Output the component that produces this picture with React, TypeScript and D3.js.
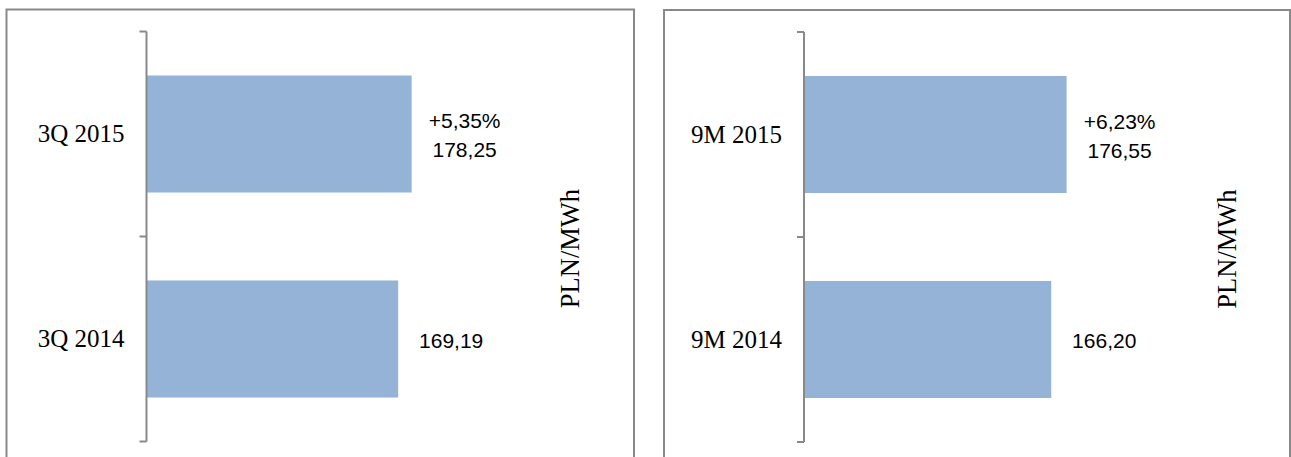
import * as d3 from 'd3';

// left panel: quarter
const qCategories = ['3Q 2015', '3Q 2014'];
const qValues = [178.25, 169.19];
const qLabels = [['+5,35%', '178,25'], ['169,19']];

// right panel: nine months
const mCategories = ['9M 2015', '9M 2014'];
const mValues = [176.55, 166.2];
const mLabels = [['+6,23%', '176,55'], ['166,20']];

const unit = 'PLN/MWh';

const W = 1291;
const H = 457;
const barColor = '#95B3D7';
const lineColor = '#898989';
const serif = '"Liberation Serif", "Times New Roman", serif';
const sans = '"Liberation Sans", Arial, sans-serif';

type PanelProps = {
  left: number;
  right: number;
  top: number;
  categories: string[];
  values: number[];
  labels: string[][];
};

const Panel = ({ left, right, top, categories, values, labels }: PanelProps) => {
  const axisX = left + 140;
  const yScale = d3
    .scaleBand<string>()
    .domain(categories)
    .range([top + 22, top + 432]);
  const xScale = d3
    .scaleLinear()
    .domain([0, 200])
    .range([axisX, axisX + 297.5]);

  const barH = yScale.bandwidth() * 0.571;
  const ticks = [...categories.map((c) => yScale(c) as number), yScale.range()[1]];

  return (
    <g>
      {/* panel frame, bottom runs off the picture */}
      <path
        d={`M${left},${H + 5} V${top} H${right} V${H + 5}`}
        fill='none'
        stroke={lineColor}
        strokeWidth={2}
      />
      {categories.map((c, i) => {
        const y0 = (yScale(c) as number) + (yScale.bandwidth() - barH) / 2;
        const cy = y0 + barH / 2;
        const x1 = xScale(values[i]);
        const lines = labels[i];
        return (
          <g key={c}>
            <rect x={xScale(0)} y={y0} width={x1 - xScale(0)} height={barH} fill={barColor} />
            <text
              x={axisX - 22}
              y={cy + 8}
              textAnchor='end'
              fontFamily={serif}
              fontSize={25}
              fill='#000'
            >
              {c}
            </text>
            {lines.map((t, j) => (
              <text
                key={j}
                x={x1 + 53}
                y={cy - ((lines.length - 1) * 29) / 2 + j * 29 + 8.5}
                textAnchor='middle'
                fontFamily={sans}
                fontSize={21}
                fill='#000'
              >
                {t}
              </text>
            ))}
          </g>
        );
      })}
      <line
        x1={axisX}
        x2={axisX}
        y1={yScale.range()[0]}
        y2={yScale.range()[1]}
        stroke={lineColor}
        strokeWidth={2}
      />
      {ticks.map((t, i) => (
        <line key={i} x1={axisX - 7} x2={axisX} y1={t} y2={t} stroke={lineColor} strokeWidth={2} />
      ))}
      <text
        transform={`translate(${left + 563},${top + 239}) rotate(-90)`}
        textAnchor='middle'
        dominantBaseline='central'
        fontFamily={serif}
        fontSize={26.5}
        fill='#000'
      >
        {unit}
      </text>
    </g>
  );
};

export default function App() {
  return (
    <svg
      width={W}
      height={H}
      style={{ position: 'absolute', left: 0, top: 0, background: '#fff' }}
    >
      <rect width={W} height={H} fill='#fff' />
      <Panel left={6.5} right={634} top={9.5} categories={qCategories} values={qValues} labels={qLabels} />
      <Panel left={664} right={1290} top={10} categories={mCategories} values={mValues} labels={mLabels} />
    </svg>
  );
}
